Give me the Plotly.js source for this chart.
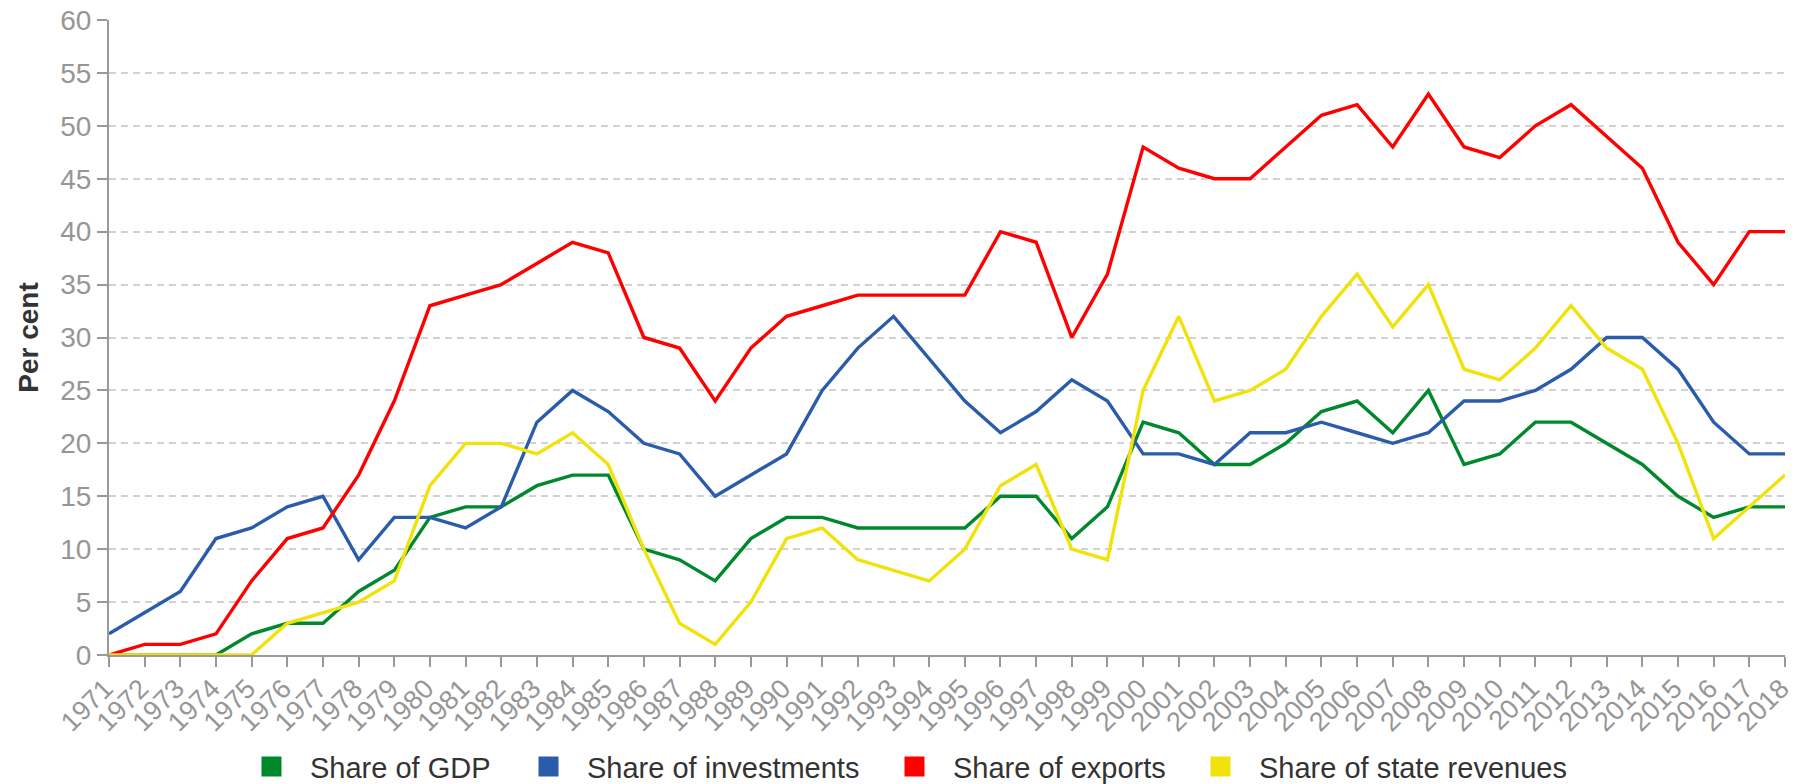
<!DOCTYPE html>
<html>
<head>
<meta charset="utf-8">
<script src="https://cdn.plot.ly/plotly-3.0.1.min.js"></script>
<style>
    html, body { margin: 0; padding: 0; background: #fff; }
    #chart { width: 1795px; height: 784px; }
</style>
</head>
<body>
<div id="chart"></div>
<script>
// Years on the x axis
const years = [
    1971, 1972, 1973, 1974, 1975, 1976, 1977, 1978, 1979, 1980,
    1981, 1982, 1983, 1984, 1985, 1986, 1987, 1988, 1989, 1990,
    1991, 1992, 1993, 1994, 1995, 1996, 1997, 1998, 1999, 2000,
    2001, 2002, 2003, 2004, 2005, 2006, 2007, 2008, 2009, 2010,
    2011, 2012, 2013, 2014, 2015, 2016, 2017, 2018
];

// Series, per cent
const shareGdp = [
    0, 0, 0, 0, 2, 3, 3, 6, 8, 13,
    14, 14, 16, 17, 17, 10, 9, 7, 11, 13,
    13, 12, 12, 12, 12, 15, 15, 11, 14, 22,
    21, 18, 18, 20, 23, 24, 21, 25, 18, 19,
    22, 22, 20, 18, 15, 13, 14, 14
];
const shareInvestments = [
    2, 4, 6, 11, 12, 14, 15, 9, 13, 13,
    12, 14, 22, 25, 23, 20, 19, 15, 17, 19,
    25, 29, 32, 28, 24, 21, 23, 26, 24, 19,
    19, 18, 21, 21, 22, 21, 20, 21, 24, 24,
    25, 27, 30, 30, 27, 22, 19, 19
];
const shareExports = [
    0, 1, 1, 2, 7, 11, 12, 17, 24, 33,
    34, 35, 37, 39, 38, 30, 29, 24, 29, 32,
    33, 34, 34, 34, 34, 40, 39, 30, 36, 48,
    46, 45, 45, 48, 51, 52, 48, 53, 48, 47,
    50, 52, 49, 46, 39, 35, 40, 40
];
const shareStateRevenues = [
    0, 0, 0, 0, 0, 3, 4, 5, 7, 16,
    20, 20, 19, 21, 18, 10, 3, 1, 5, 11,
    12, 9, 8, 7, 10, 16, 18, 10, 9, 25,
    32, 24, 25, 27, 32, 36, 31, 35, 27, 26,
    29, 33, 29, 27, 20, 11, 14, 17
];

const seriesNames = ['Share of GDP', 'Share of investments', 'Share of exports', 'Share of state revenues'];
const seriesValues = [shareGdp, shareInvestments, shareExports, shareStateRevenues];
const seriesColors = ['#00892c', '#2b5cab', '#ff0000', '#f1e20c'];
// width reserved for each legend entry's text (px)
const legendWidths = [195, 284, 224, 325];

const yTicks = [0, 5, 10, 15, 20, 25, 30, 35, 40, 45, 50, 55, 60];

const FONT = '"Liberation Sans", Arial, sans-serif';

const traces = [];
// lines
seriesValues.forEach((vals, i) => {
    traces.push({
        x: years,
        y: vals,
        name: seriesNames[i],
        type: 'scatter',
        mode: 'lines',
        line: { color: seriesColors[i], width: 3.4 },
        showlegend: false,
        hoverinfo: 'x+y+name'
    });
});
// legend entries with square swatches
seriesNames.forEach((name, i) => {
    traces.push({
        x: [null],
        y: [null],
        name: name,
        type: 'scatter',
        mode: 'markers',
        marker: {
            color: seriesColors[i],
            symbol: 'square',
            size: 16,
            line: { color: seriesColors[i], width: 4 }
        },
        legendwidth: legendWidths[i],
        showlegend: true,
        hoverinfo: 'skip'
    });
});

const layout = {
    width: 1795,
    height: 784,
    margin: { l: 109, r: 10, t: 20, b: 129 },
    paper_bgcolor: '#ffffff',
    plot_bgcolor: '#ffffff',
    font: { family: FONT, color: '#969696', size: 26 },
    showlegend: true,
    legend: {
        orientation: 'h',
        xref: 'container',
        yref: 'container',
        x: 233 / 1795,
        xanchor: 'left',
        y: 0.022,
        yanchor: 'middle',
        itemwidth: 67,
        font: { family: FONT, size: 29, color: '#333333' },
        bgcolor: 'rgba(0,0,0,0)'
    },
    xaxis: {
        type: 'linear',
        range: [1971, 2018],
        tickmode: 'array',
        tickvals: years,
        ticktext: years.map(String),
        tickangle: -45,
        ticks: 'outside',
        ticklen: 10,
        tickwidth: 2,
        tickcolor: '#999999',
        showline: true,
        linecolor: '#999999',
        linewidth: 2,
        showgrid: false,
        zeroline: false,
        ticklabeloverflow: 'allow',
        ticklabelstandoff: -5,
        ticklabelshift: -4,
        tickfont: { family: FONT, size: 27, color: '#969696' },
        fixedrange: true
    },
    yaxis: {
        range: [0, 60],
        tickmode: 'array',
        tickvals: yTicks,
        ticks: 'outside',
        ticklen: 10,
        tickwidth: 2,
        tickcolor: '#999999',
        showline: true,
        linecolor: '#999999',
        linewidth: 2,
        showgrid: true,
        gridcolor: '#d2d2d2',
        gridwidth: 1.5,
        griddash: '7px,5px',
        zeroline: false,
        tickfont: { family: FONT, size: 28, color: '#969696' },
        title: {
            text: '<b>Per cent</b>',
            font: { family: FONT, size: 28, color: '#333333' },
            standoff: 13
        },
        fixedrange: true
    }
};

Plotly.newPlot('chart', traces, layout, { displayModeBar: false, responsive: false });
</script>
</body>
</html>
